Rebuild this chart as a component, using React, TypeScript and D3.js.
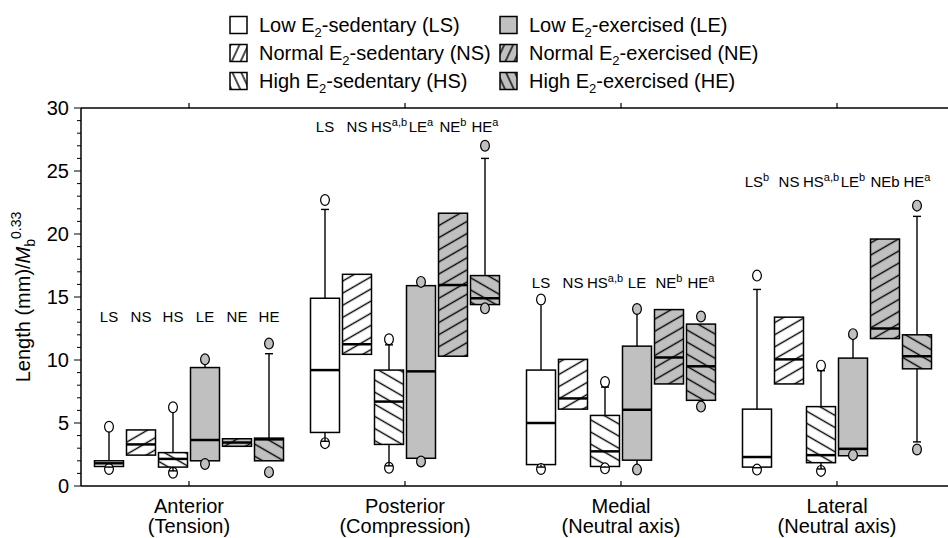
import { useEffect, useRef } from 'react'
import * as d3 from 'd3'

type Box = { q1: number; med: number; q3: number; lo?: number; hi?: number; loCap?: boolean; hiCap?: boolean; out: number[] }

const regions = ['Anterior', 'Posterior', 'Medial', 'Lateral']
const regionNotes = ['(Tension)', '(Compression)', '(Neutral axis)', '(Neutral axis)']
const groups = ['LS', 'NS', 'HS', 'LE', 'NE', 'HE']
const levelNames = ['Low', 'Normal', 'High']
const stateNames = ['sedentary', 'exercised']
const yTicks = [0, 5, 10, 15, 20, 25, 30]

const anterior: Box[] = [
  { q1: 1.55, med: 1.8, q3: 2.0, hi: 4.3, hiCap: false, lo: 1.5, out: [4.7, 1.35] },
  { q1: 2.45, med: 3.3, q3: 4.45, out: [] },
  { q1: 1.5, med: 2.15, q3: 2.65, hi: 5.8, hiCap: false, lo: 1.2, out: [6.25, 1.05] },
  { q1: 2.0, med: 3.65, q3: 9.4, hi: 9.63, hiCap: false, out: [10.05, 1.75] },
  { q1: 3.15, med: 3.45, q3: 3.75, out: [] },
  { q1: 2.0, med: 3.7, q3: 3.8, hi: 10.5, out: [11.3, 1.1] },
]
const posterior: Box[] = [
  { q1: 4.25, med: 9.2, q3: 14.9, hi: 21.95, lo: 3.55, out: [22.7, 3.4] },
  { q1: 10.45, med: 11.25, q3: 16.8, out: [] },
  { q1: 3.3, med: 6.7, q3: 9.2, hi: 11.2, lo: 1.6, out: [11.65, 1.45] },
  { q1: 2.2, med: 9.1, q3: 15.9, out: [16.2, 1.95] },
  { q1: 10.3, med: 15.95, q3: 21.65, out: [] },
  { q1: 14.4, med: 14.9, q3: 16.7, hi: 26.0, out: [27.0, 14.1] },
]
const medial: Box[] = [
  { q1: 1.7, med: 5.0, q3: 9.2, hi: 14.35, hiCap: false, lo: 1.5, out: [14.8, 1.35] },
  { q1: 6.1, med: 6.95, q3: 10.05, out: [] },
  { q1: 1.55, med: 2.75, q3: 5.6, hi: 7.85, lo: 1.5, out: [8.25, 1.4] },
  { q1: 2.05, med: 6.05, q3: 11.1, hi: 13.65, hiCap: false, lo: 1.72, loCap: false, out: [14.05, 1.3] },
  { q1: 8.1, med: 10.2, q3: 14.0, out: [] },
  { q1: 6.8, med: 9.5, q3: 12.85, out: [13.45, 6.3] },
]
const lateral: Box[] = [
  { q1: 1.5, med: 2.3, q3: 6.1, hi: 15.6, lo: 1.45, out: [16.7, 1.3] },
  { q1: 8.1, med: 10.05, q3: 13.4, out: [] },
  { q1: 1.85, med: 2.45, q3: 6.3, hi: 9.15, lo: 1.35, out: [9.55, 1.2] },
  { q1: 2.4, med: 2.95, q3: 10.15, hi: 11.63, hiCap: false, out: [12.05, 2.45] },
  { q1: 11.7, med: 12.5, q3: 19.6, out: [] },
  { q1: 9.3, med: 10.3, q3: 12.0, hi: 21.4, lo: 3.5, out: [22.25, 2.9] },
]
const boxesByRegion = [anterior, posterior, medial, lateral]

// significance letters above each region: [label, superscript]
const anteriorMarks = [['LS', ''], ['NS', ''], ['HS', ''], ['LE', ''], ['NE', ''], ['HE', '']]
const posteriorMarks = [['LS', ''], ['NS', ''], ['HS', 'a,b'], ['LE', 'a'], ['NE', 'b'], ['HE', 'a']]
const medialMarks = [['LS', ''], ['NS', ''], ['HS', 'a,b'], ['LE', ''], ['NE', 'b'], ['HE', 'a']]
const lateralMarks = [['LS', 'b'], ['NS', ''], ['HS', 'a,b'], ['LE', 'b'], ['NEb', ''], ['HE', 'a']]
const marksByRegion = [anteriorMarks, posteriorMarks, medialMarks, lateralMarks]
const markLevels = [13.4, 28.5, 16.1, 24.1]

const FONT = '"Liberation Sans", Arial, Helvetica, sans-serif'
const GRAY = '#c0c0c0'

export default function App() {
  const svgRef = useRef<SVGSVGElement>(null)

  useEffect(() => {
    if (!svgRef.current) return
    const svg = d3.select(svgRef.current)
    svg.selectAll('*').remove()
    svg.attr('font-family', FONT)

    const W = 948
    const left = 81
    const top = 108
    const bottom = 486
    const x = d3.scaleBand<string>().domain(regions).range([left, left + 864])
    const sub = d3.scalePoint<string>().domain(groups).range([-80, 80])
    const y = d3.scaleLinear().domain([0, 30]).range([bottom, top])
    const bw = 29

    const defs = svg.append('defs')
    const addHatch = (id: string, bg: string, angle: number, step: number) => {
      const p = defs.append('pattern').attr('id', id).attr('patternUnits', 'userSpaceOnUse')
        .attr('width', step).attr('height', step).attr('patternTransform', `rotate(${angle})`)
      p.append('rect').attr('width', step).attr('height', step).attr('fill', bg)
      p.append('line').attr('x1', -1).attr('x2', step + 1).attr('y1', step / 2).attr('y2', step / 2)
        .attr('stroke', '#000').attr('stroke-width', 1.4)
    }
    addHatch('ns', '#fff', -30, 10.5)
    addHatch('hs', '#fff', 30, 10.5)
    addHatch('ne', GRAY, -30, 10.5)
    addHatch('he', GRAY, 30, 10.5)
    addHatch('nsL', '#fff', -65, 8)
    addHatch('hsL', '#fff', 65, 8)
    addHatch('neL', GRAY, -65, 8)
    addHatch('heL', GRAY, 65, 8)

    const fillFor = (gi: number, legend = false) => {
      const lvl = gi % 3
      const ex = gi >= 3
      if (lvl === 0) return ex ? GRAY : '#fff'
      const id = (lvl === 1 ? 'n' : 'h') + (ex ? 'e' : 's') + (legend ? 'L' : '')
      return `url(#${id})`
    }

    // frame
    const frame = svg.append('g').attr('stroke', '#000').attr('stroke-width', 1.5)
    frame.append('line').attr('x1', left).attr('x2', W).attr('y1', top).attr('y2', top)
    frame.append('line').attr('x1', left).attr('x2', W).attr('y1', bottom).attr('y2', bottom)
    frame.append('line').attr('x1', left).attr('x2', left).attr('y1', top).attr('y2', bottom)

    // y ticks
    d3.range(0, 31).forEach((v) => {
      const major = v % 5 === 0
      svg.append('line').attr('x1', left - (major ? 7 : 4)).attr('x2', left).attr('y1', y(v)).attr('y2', y(v))
        .attr('stroke', '#000').attr('stroke-width', 1)
    })
    yTicks.forEach((v) => {
      svg.append('text').attr('x', left - 12).attr('y', y(v) + 7).attr('text-anchor', 'end')
        .attr('font-size', 20).text(v)
    })

    // y label
    const yl = svg.append('text').attr('transform', `translate(30,${(top + bottom) / 2}) rotate(-90)`)
      .attr('text-anchor', 'middle').attr('font-size', 20)
    yl.append('tspan').text('Length (mm)/')
    yl.append('tspan').attr('font-style', 'italic').text('M')
    yl.append('tspan').attr('font-size', 14).attr('dy', 5).text('b')
    yl.append('tspan').attr('font-size', 14).attr('dy', -14).text('0.33')

    // category ticks and labels
    regions.forEach((r, i) => {
      const cx = (x(r) ?? 0) + x.bandwidth() / 2
      svg.append('line').attr('x1', cx).attr('x2', cx).attr('y1', bottom).attr('y2', bottom - 5).attr('stroke', '#000').attr('stroke-width', 1.2)
      svg.append('line').attr('x1', cx).attr('x2', cx).attr('y1', top).attr('y2', top - 5).attr('stroke', '#000').attr('stroke-width', 1.2)
      svg.append('text').attr('x', cx).attr('y', 513).attr('text-anchor', 'middle').attr('font-size', 20).text(r)
      svg.append('text').attr('x', cx).attr('y', 533).attr('text-anchor', 'middle').attr('font-size', 20).text(regionNotes[i])
    })

    // boxes
    regions.forEach((r, ri) => {
      const cx0 = (x(r) ?? 0) + x.bandwidth() / 2
      boxesByRegion[ri].forEach((b, gi) => {
        const cx = cx0 + (sub(groups[gi]) ?? 0)
        const g = svg.append('g')
        g.append('rect').attr('x', cx - bw / 2).attr('y', y(b.q3)).attr('width', bw).attr('height', y(b.q1) - y(b.q3))
          .attr('fill', fillFor(gi)).attr('stroke', '#000').attr('stroke-width', 1.5)
        b.out.forEach((o) => {
          g.append('ellipse').attr('cx', cx).attr('cy', y(o)).attr('rx', 4.4).attr('ry', 5.4)
            .attr('fill', gi >= 3 ? GRAY : '#fff').attr('stroke', '#000').attr('stroke-width', 1.2)
        })
        const whisker = (from: number, to: number, cap: boolean) => {
          g.append('line').attr('x1', cx).attr('x2', cx).attr('y1', y(from)).attr('y2', y(to)).attr('stroke', '#000').attr('stroke-width', 1.4)
          if (cap) g.append('line').attr('x1', cx - 4).attr('x2', cx + 4).attr('y1', y(to)).attr('y2', y(to)).attr('stroke', '#000').attr('stroke-width', 1.4)
        }
        if (b.hi !== undefined) whisker(b.q3, b.hi, b.hiCap !== false)
        if (b.lo !== undefined) whisker(b.q1, b.lo, b.loCap !== false)
        g.append('line').attr('x1', cx - bw / 2).attr('x2', cx + bw / 2).attr('y1', y(b.med)).attr('y2', y(b.med))
          .attr('stroke', '#000').attr('stroke-width', 2.5)
      })

      // letters
      marksByRegion[ri].forEach(([base, sup], gi) => {
        const cx = cx0 + (sub(groups[gi]) ?? 0)
        const t = svg.append('text').attr('x', cx).attr('y', y(markLevels[ri]) + 5).attr('text-anchor', 'middle').attr('font-size', 15)
        t.append('tspan').text(base)
        if (sup) t.append('tspan').attr('font-size', 11).attr('dy', -6).text(sup)
      })
    })

    // legend
    const colX = [230, 500]
    const rowY = [25, 53, 81]
    stateNames.forEach((st, si) => {
      levelNames.forEach((lv, li) => {
        const gi = si * 3 + li
        const lx = colX[si]
        const cy = rowY[li]
        svg.append('rect').attr('x', lx).attr('y', cy - 8.5).attr('width', 17).attr('height', 17)
          .attr('fill', fillFor(gi, true)).attr('stroke', '#000').attr('stroke-width', 1.5)
        const t = svg.append('text').attr('x', lx + 29).attr('y', cy + 7).attr('font-size', 20)
        t.append('tspan').text(`${lv} E`)
        t.append('tspan').attr('font-size', 13).attr('dy', 5).text('2')
        t.append('tspan').attr('dy', -5).text(`-${st} (${groups[gi]})`)
      })
    })
  }, [])

  return (
    <svg ref={svgRef} width={948} height={538}
      style={{ position: 'absolute', left: 0, top: 0, display: 'block', background: '#fff' }} />
  )
}
